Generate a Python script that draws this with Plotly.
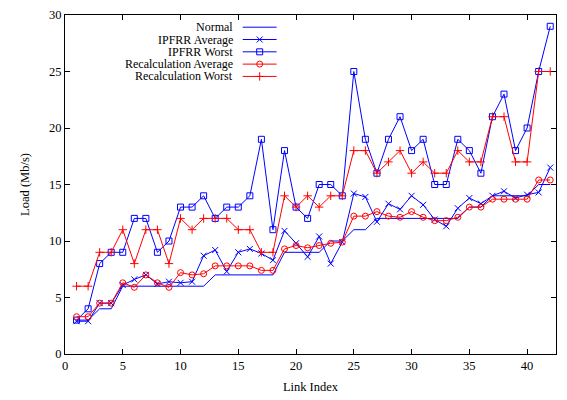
import plotly.graph_objects as go

link_index = list(range(1, 43))
normal = [3,3,4,4,6,6,6,6,6,6,6,6,7,7,7,7,7,7,9,9,9,9,10,10,11,11,12,12,12,12,12,12,12,12,13,13,14,14,14,14,15,15]
ipfrr_avg = [2.9,2.9,4.5,4.5,6.1,6.6,7.0,6.2,6.4,6.3,6.4,8.7,9.2,7.3,9.0,9.3,8.9,8.3,10.9,9.8,8.6,10.4,8.0,9.9,14.2,13.9,11.7,13.3,12.8,14.0,13.2,11.9,11.3,12.9,13.8,13.3,14.0,14.4,13.8,14.1,14.3,16.5]
ipfrr_worst = [3,4,8,9,9,12,12,9,10,13,13,14,12,13,13,14,19,11,18,13,12,15,15,14,25,19,16,19,21,18,19,15,15,19,18,16,21,23,18,20,25,29]
recalc_avg = [3.3,3.3,4.5,4.5,6.3,5.9,7.0,6.3,5.9,7.2,7.0,7.1,7.8,7.8,7.8,7.8,7.4,7.4,9.3,9.6,9.4,9.6,9.8,9.9,12.2,12.2,12.6,12.2,12.1,12.6,12.1,11.8,11.8,12.1,13.0,13.0,13.7,13.7,13.7,13.7,15.4,15.4]
recalc_worst = [6,6,9,9,11,8,11,11,8,12,11,12,12,12,11,11,9,9,14,13,14,13,14,14,18,18,16,17,18,16,17,16,16,18,17,17,21,21,17,17,25,25]

x_ticks = [0, 5, 10, 15, 20, 25, 30, 35, 40]
y_ticks = [0, 5, 10, 15, 20, 25, 30]

BLUE = "#0000ff"
RED = "#ff0000"
FONT = "Liberation Serif, Times New Roman, Times, serif"

series = [
    ("Normal", normal, BLUE, None, 6),
    ("IPFRR Average", ipfrr_avg, BLUE, "x-thin-open", 6),
    ("IPFRR Worst", ipfrr_worst, BLUE, "square-open", 6),
    ("Recalculation Average", recalc_avg, RED, "circle-open", 6),
    ("Recalculation Worst", recalc_worst, RED, "cross-thin-open", 6),
]

fig = go.Figure()
for name, ys, color, sym, size in series:
    mode = "lines" if sym is None else "lines+markers"
    kw = dict(x=link_index, y=ys, mode=mode, name=name,
              line=dict(color=color, width=1), showlegend=False)
    if sym:
        kw["marker"] = dict(symbol=sym, size=size, color=color,
                            line=dict(color=color, width=1))
    fig.add_trace(go.Scatter(**kw))

# gnuplot-style key: right-aligned text, sample to the right
row_y0 = 0.964
row_dy = 0.0363
x_text = 0.344
x_l0, x_l1 = 0.362, 0.431
annotations = []
for k, (name, ys, color, sym, size) in enumerate(series):
    yy = row_y0 - k * row_dy
    fig.add_trace(go.Scatter(x=[x_l0, x_l1], y=[yy, yy], mode="lines",
                             line=dict(color=color, width=1), showlegend=False,
                             xaxis="x2", yaxis="y2", hoverinfo="skip"))
    if sym:
        fig.add_trace(go.Scatter(x=[(x_l0 + x_l1) / 2], y=[yy], mode="markers",
                                 marker=dict(symbol=sym, size=size, color=color,
                                             line=dict(color=color, width=1)),
                                 showlegend=False, xaxis="x2", yaxis="y2",
                                 hoverinfo="skip"))
    annotations.append(dict(x=x_text, y=yy, xref="paper", yref="paper",
                            text=name, showarrow=False, xanchor="right",
                            yanchor="middle", borderpad=0,
                            font=dict(family=FONT, size=12, color="black")))

axis_common = dict(showline=True, linecolor="black", linewidth=1, mirror="allticks",
                   ticks="inside", ticklen=5, tickcolor="black", tickwidth=1,
                   showgrid=False, zeroline=False,
                   tickfont=dict(family=FONT, size=12.5, color="black"))

fig.update_layout(
    width=567, height=400,
    font=dict(family=FONT, color="black"),
    margin=dict(l=65, r=11, t=8, b=42),
    paper_bgcolor="white", plot_bgcolor="white",
    xaxis=dict(range=[0, 42.5], tickvals=x_ticks,
               title=dict(text="Link Index", font=dict(family=FONT, size=12.5, color="black"), standoff=10),
               **axis_common),
    yaxis=dict(range=[0, 30], tickvals=y_ticks,
               title=dict(text="Load (Mb/s)", font=dict(family=FONT, size=12.5, color="black"), standoff=16),
               **axis_common),
    xaxis2=dict(range=[0, 1], overlaying="x", visible=False),
    yaxis2=dict(range=[0, 1], overlaying="y", visible=False),
    annotations=annotations,
    showlegend=False,
)

fig.write_html("out.html")
